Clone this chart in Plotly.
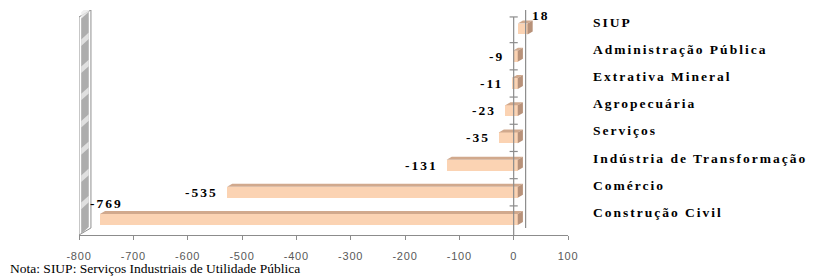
import plotly.graph_objects as go

# ---------------- data ----------------
categories = ["Construção Civil", "Comércio", "Indústria de Transformação",
              "Serviços", "Agropecuária", "Extrativa Mineral",
              "Administração Pública", "SIUP"]
values = [-769, -535, -131, -35, -23, -11, -9, 18]
tick_values = [-800, -700, -600, -500, -400, -300, -200, -100, 0, 100]
tick_labels = ["-800", "-700", "-600", "-500", "-400", "-300", "-200", "-100", "0", "100"]
note_text = "Nota: SIUP: Serviços Industriais de Utilidade Pública"

# ---------------- style ----------------
X_RANGE = [-800, 100]
Y_RANGE = [-0.57, 7.70]
SHIFT = 7.5          # bar front offset (x units) inside the 3D depth
DX, DY = 9.5, 0.11   # bar depth projection
WALL_DX = 22         # back-plane depth (x units)
BAR_W = 0.40
FRONT = "#FBD3B3"
TOP = "#D1A98D"
SIDE = "#B8927A"
AXIS = "#8C8C8C"
SERIF = "Liberation Serif"
SANS = "Liberation Sans"
BOLD_SIZE = 13.5
BOLD_SPACING = 2.0

# label placement (pixels) per bar: (xanchor, xshift, yshift)
label_place = {
    "Construção Civil": ("left", -12, 16),
    "SIUP": ("left", -3, 14),
}

fig = go.Figure()
idx = list(range(len(categories)))

# left wall (3D side wall at x = -800)
def wall_path(inset_x=0.0, inset_y=0.0):
    x0 = X_RANGE[0] + inset_x
    x1 = X_RANGE[0] + WALL_DX - inset_x
    yb0 = Y_RANGE[0] + inset_y
    yt0 = 7.445 - inset_y
    yb1 = -0.312 + inset_y
    yt1 = Y_RANGE[1] - inset_y
    return f"M {x0},{yb0} L {x0},{yt0} L {x1},{yt1} L {x1},{yb1} Z"

fig.add_shape(type="path", path=wall_path(), xref="x", yref="y",
              fillcolor="#FFFFFF", line=dict(color="#8F8F8F", width=1), layer="below")
fig.add_shape(type="path", path=wall_path(4, 0.04), xref="x", yref="y",
              fillcolor="#ADADAD", line=dict(width=0), layer="below")
# lighter streaks on the wall
for k in range(8):
    yc = k + 0.5
    fig.add_shape(type="path",
                  path=f"M {X_RANGE[0]+4},{yc-0.12} L {X_RANGE[0]+4},{yc+0.12} "
                       f"L {X_RANGE[0]+WALL_DX-4},{yc+0.12+0.25} L {X_RANGE[0]+WALL_DX-4},{yc-0.12+0.25} Z",
                  xref="x", yref="y", fillcolor="rgba(235,235,235,0.8)",
                  line=dict(width=0), layer="below")

# back plane line at zero
fig.add_shape(type="line", x0=WALL_DX, x1=WALL_DX, y0=-0.312, y1=Y_RANGE[1],
              xref="x", yref="y", line=dict(color=AXIS, width=1.2))

# front category axis at zero
fig.add_shape(type="line", x0=0, x1=0, y0=Y_RANGE[0], y1=7.445,
              xref="x", yref="y", line=dict(color=AXIS, width=1.2))
for k in range(7):
    fig.add_shape(type="line", x0=-7.5, x1=7.5, y0=k + 0.5, y1=k + 0.5,
                  xref="x", yref="y", line=dict(color=AXIS, width=1.2))
fig.add_shape(type="line", x0=-7.5, x1=7.5, y0=7.445, y1=7.445,
              xref="x", yref="y", line=dict(color=AXIS, width=1.2))

# 3D faces of bars
for i, v in zip(idx, values):
    x0 = min(0, v) + SHIFT
    x1 = max(0, v) + SHIFT
    yt = i + BAR_W / 2
    yb = i - BAR_W / 2
    fig.add_trace(go.Scatter(x=[x0, x1, x1 + DX, x0 + DX, x0],
                             y=[yt, yt, yt + DY, yt + DY, yt],
                             mode="lines", fill="toself", fillcolor=TOP,
                             line=dict(width=0), hoverinfo="skip", showlegend=False))
    fig.add_trace(go.Scatter(x=[x1, x1 + DX, x1 + DX, x1, x1],
                             y=[yb, yb + DY, yt + DY, yt, yb],
                             mode="lines", fill="toself", fillcolor=SIDE,
                             line=dict(width=0), hoverinfo="skip", showlegend=False))

# front faces
fig.add_trace(go.Bar(orientation="h", y=idx, x=values, base=SHIFT, width=BAR_W,
                     marker=dict(color=FRONT, line=dict(width=0)),
                     hoverinfo="skip", showlegend=False))

def spaced(t, sp):
    return f'<span style="letter-spacing:{sp}px">{t}</span>'

bold_font = dict(family=SERIF, size=BOLD_SIZE, color="#000000", weight="bold")
annotations = []
for i, (c, v) in enumerate(zip(categories, values)):
    if c in label_place:
        xa, xs, ys = label_place[c]
        xpos = (v + SHIFT) if v < 0 else (v + SHIFT + DX)
    else:
        xa, xs, ys = "right", -7, 0
        xpos = v + SHIFT
    annotations.append(dict(x=xpos, y=i, xref="x", yref="y",
                            text=spaced(str(v), BOLD_SPACING),
                            showarrow=False, xanchor=xa, yanchor="middle",
                            xshift=xs, yshift=ys, font=bold_font))
    annotations.append(dict(x=1, y=i, xref="paper", yref="y",
                            text=spaced(c, BOLD_SPACING),
                            showarrow=False, xanchor="left", yanchor="middle",
                            xshift=23, yshift=7, font=bold_font))

annotations.append(dict(x=0, y=0, xref="paper", yref="paper", text=note_text,
                        showarrow=False, xanchor="left", yanchor="middle",
                        xshift=-71, yshift=-33,
                        font=dict(family=SERIF, size=13.5, color="#000000")))

# the page body adds an 8px offset; the figure is sized to fill 823x280 from there
fig.update_layout(
    width=815, height=272,
    margin=dict(l=71, r=255, t=2, b=45),
    paper_bgcolor="white", plot_bgcolor="white",
    bargap=0,
    annotations=annotations,
    xaxis=dict(range=X_RANGE, tickvals=tick_values,
               ticktext=[spaced(t, 0.8) for t in tick_labels],
               showgrid=False, zeroline=False, showline=True, linecolor=AXIS, linewidth=1.2,
               ticks="outside", ticklen=4, tickcolor=AXIS, tickwidth=1.2,
               ticklabelstandoff=7,
               tickfont=dict(family=SANS, size=11, color="#595959")),
    yaxis=dict(range=Y_RANGE, showgrid=False, zeroline=False, showline=False,
               showticklabels=False, ticks=""),
)

fig.write_html("out.html")
